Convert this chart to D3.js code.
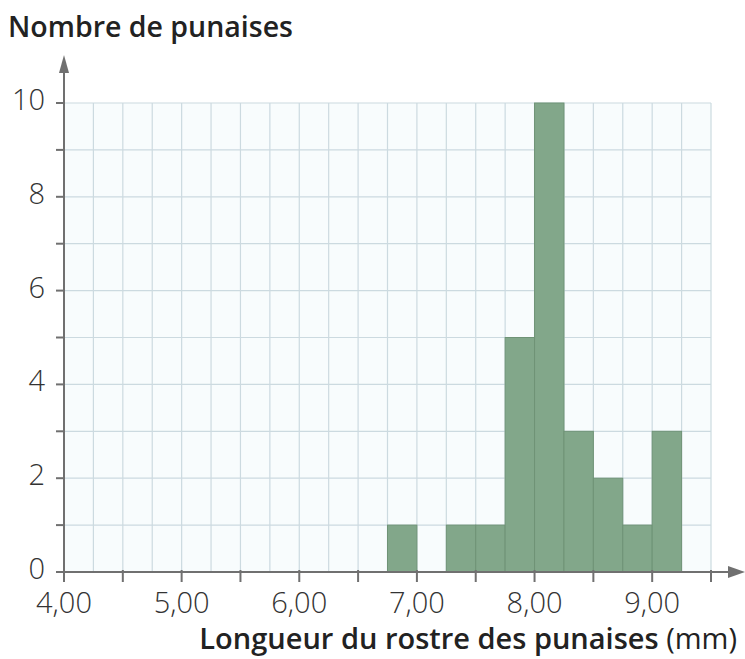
<!DOCTYPE html>
<html>
<head>
<meta charset="utf-8">
<script src="https://cdn.jsdelivr.net/npm/d3@7"></script>
<style>
  body { margin: 0; background: #fff; }
  svg text { font-family: "Open Sans", sans-serif; }
</style>
</head>
<body>
<svg id="chart" width="745" height="659"></svg>
<script>
// class starts (mm), each class is 0.25 mm wide
const binStarts = [6.75, 7.25, 7.50, 7.75, 8.00, 8.25, 8.50, 8.75, 9.00];
const counts = [1, 1, 1, 5, 10, 3, 2, 1, 3];
const binWidth = 0.25;
const xTickLabels = ['4,00', '5,00', '6,00', '7,00', '8,00', '9,00'];
const yTickLabels = [0, 2, 4, 6, 8, 10];

const svg = d3.select('#chart');
const x = d3.scaleLinear().domain([4, 9.5]).range([64, 711]);
const y = d3.scaleLinear().domain([0, 10]).range([572, 103]);

// grid background
svg.append('rect')
  .attr('x', x(4)).attr('y', y(10))
  .attr('width', x(9.5) - x(4)).attr('height', y(0) - y(10))
  .attr('fill', '#f8fcfd');

const grid = svg.append('g').attr('stroke', '#ccdae0').attr('stroke-width', 1.2);
grid.selectAll('line.v').data(d3.range(4.25, 9.51, 0.25)).join('line')
  .attr('x1', d => x(d)).attr('x2', d => x(d))
  .attr('y1', y(0)).attr('y2', y(10));
grid.selectAll('line.h').data(d3.range(1, 11)).join('line')
  .attr('x1', x(4)).attr('x2', x(9.5))
  .attr('y1', d => y(d)).attr('y2', d => y(d));

// bars
svg.append('g').selectAll('rect').data(binStarts).join('rect')
  .attr('x', d => x(d))
  .attr('y', (d, i) => y(counts[i]))
  .attr('width', x(binWidth) - x(0))
  .attr('height', (d, i) => y(0) - y(counts[i]))
  .attr('fill', '#82a78a')
  .attr('stroke', '#6f9376')
  .attr('stroke-width', 1);

// axes
const axisCol = '#707070';
const ax = svg.append('g').attr('stroke', axisCol).attr('stroke-width', 2);
ax.append('line').attr('x1', x(4)).attr('x2', 732).attr('y1', y(0)).attr('y2', y(0));
ax.append('line').attr('x1', x(4)).attr('x2', x(4)).attr('y1', y(0)).attr('y2', 70);
svg.append('path').attr('d', `M745,${y(0)} L728,${y(0) - 6} L728,${y(0) + 6} Z`).attr('fill', axisCol);
svg.append('path').attr('d', `M${x(4)},55 L${x(4) - 5},73 L${x(4) + 5},73 Z`).attr('fill', axisCol);

// x ticks every 0.5
ax.selectAll('line.xt').data(d3.range(4, 9.51, 0.5)).join('line')
  .attr('x1', d => x(d)).attr('x2', d => x(d))
  .attr('y1', y(0) - 2).attr('y2', y(0) + 10);
// y ticks every 1
ax.selectAll('line.yt').data(d3.range(0, 11)).join('line')
  .attr('x1', x(4) - 8).attr('x2', x(4))
  .attr('y1', d => y(d)).attr('y2', d => y(d));

// tick labels
svg.append('g').selectAll('text').data(xTickLabels).join('text')
  .attr('x', (d, i) => x(4 + i)).attr('y', 613)
  .attr('text-anchor', 'middle')
  .attr('font-size', 29).attr('font-weight', 300).attr('fill', '#333')
  .text(d => d);
svg.append('g').selectAll('text').data(yTickLabels).join('text')
  .attr('x', 45).attr('y', d => y(d) + 7)
  .attr('text-anchor', 'end')
  .attr('font-size', 29).attr('font-weight', 300).attr('fill', '#333')
  .text(d => d);

// titles
svg.append('text').attr('x', 8).attr('y', 37)
  .attr('font-size', 28.5).attr('font-weight', 600).attr('fill', '#222')
  .text('Nombre de punaises');
const xt = svg.append('text').attr('x', 737).attr('y', 649)
  .attr('text-anchor', 'end').attr('font-size', 29).attr('fill', '#222');
xt.append('tspan').attr('font-weight', 600).text('Longueur du rostre des punaises ');
xt.append('tspan').attr('font-weight', 400).text('(mm)');
</script>
</body>
</html>
